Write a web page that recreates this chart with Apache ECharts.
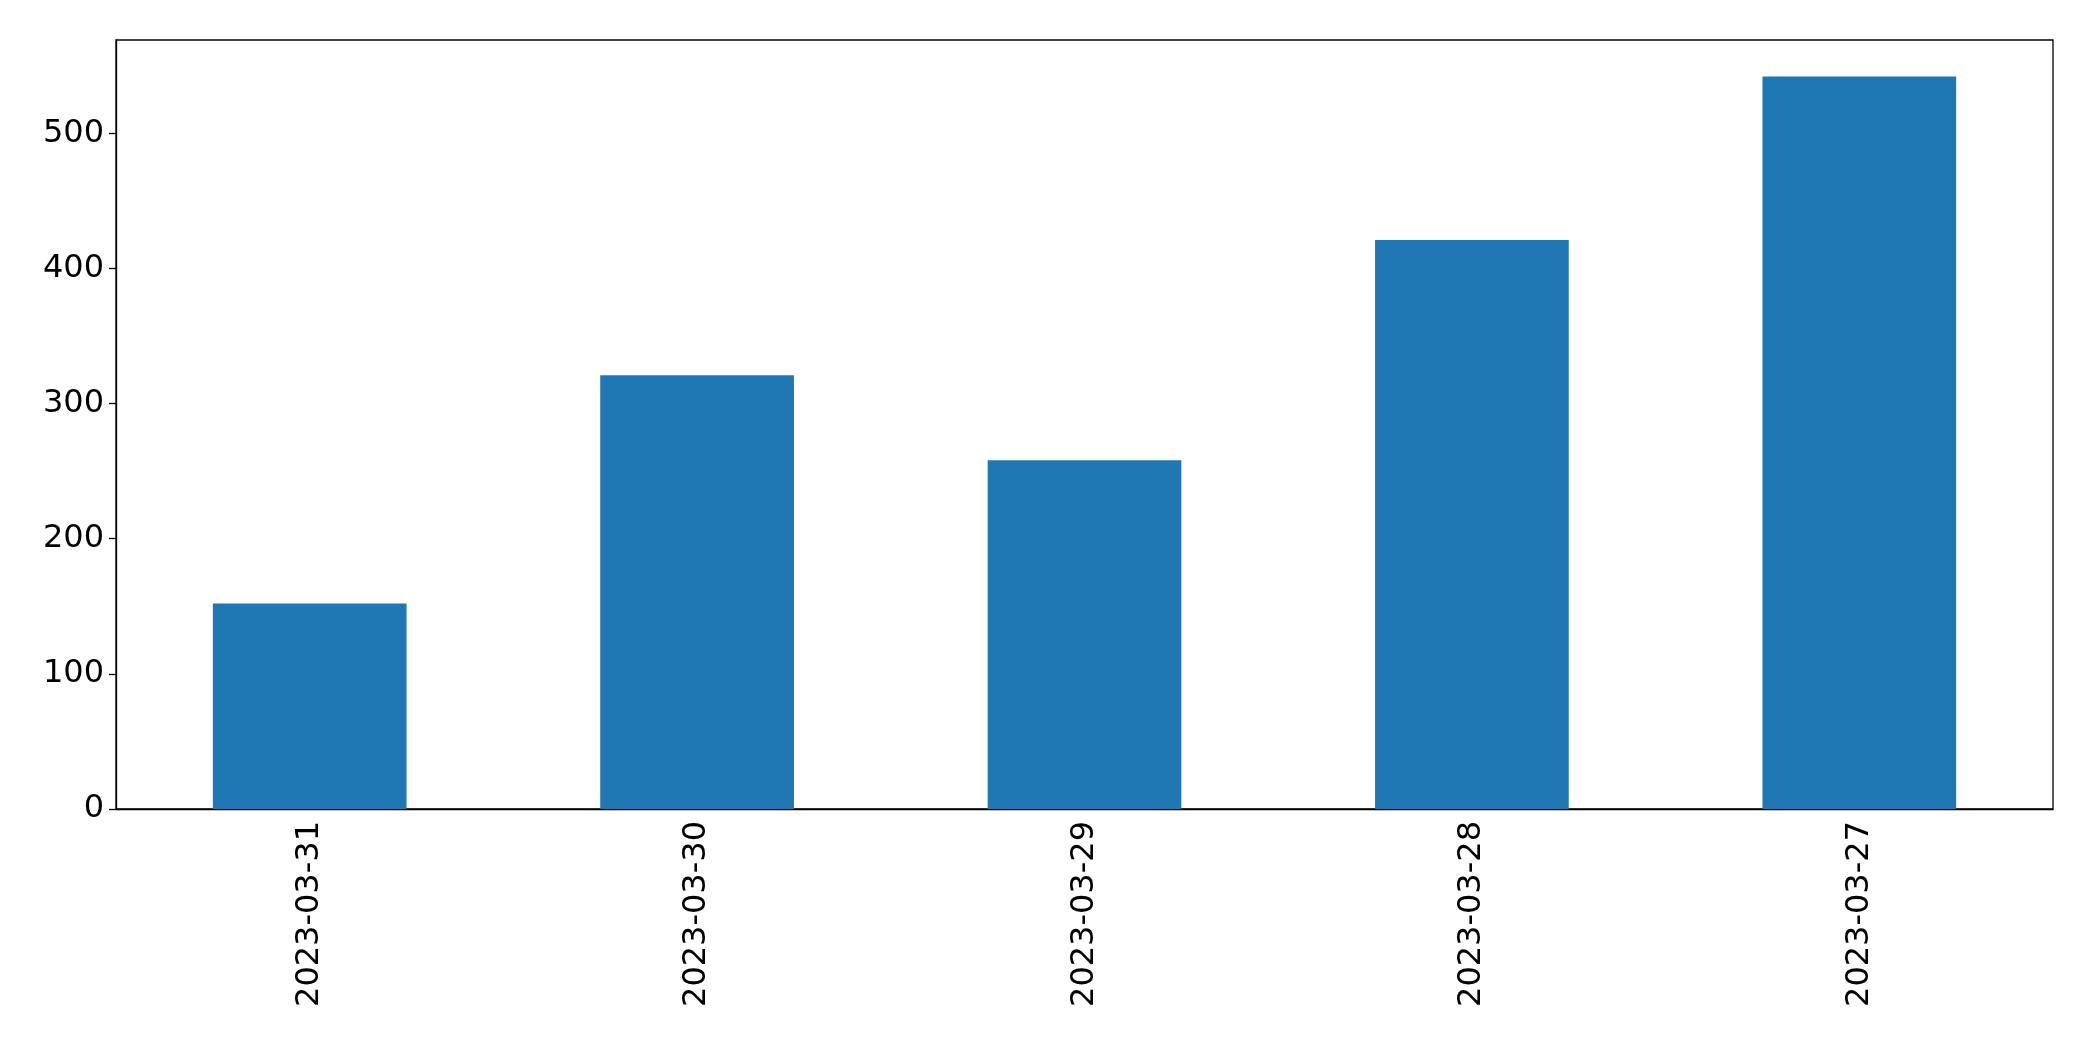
<!DOCTYPE html>
<html><head><meta charset="utf-8">
<script src="https://cdn.jsdelivr.net/npm/echarts@6/dist/echarts.min.js"></script>
<style>html,body{margin:0;padding:0;background:#fff}#c{width:2093px;height:1061px}</style>
</head><body><div id="c"></div>
<script>
const categories = ["2023-03-31","2023-03-30","2023-03-29","2023-03-28","2023-03-27"];
const values = [152, 321, 258, 421, 542];
const chart = echarts.init(document.getElementById('c'));
const font = {fontFamily:'DejaVu Sans', fontSize:32, color:'#000'};
chart.setOption({
  animation:false,
  grid:{left:116, right:40, top:40, bottom:252, show:true, borderColor:'#000', borderWidth:1.3},
  xAxis:{type:'category', data:categories,
    axisLine:{lineStyle:{color:'#000',width:1.3}},
    axisTick:{alignWithLabel:true, length:7, lineStyle:{color:'#000',width:1.3}},
    axisLabel:Object.assign({rotate:90, margin:12}, font)},
  yAxis:{type:'value', min:0, max:569, interval:100,
    axisLine:{show:true, lineStyle:{color:'#000',width:1.3}},
    axisTick:{show:true, length:7, lineStyle:{color:'#000',width:1.3}},
    splitLine:{show:false},
    axisLabel:Object.assign({margin:12, showMaxLabel:false}, font)},
  series:[{type:'bar', data:values, barWidth:'50%', itemStyle:{color:'#1f77b4'}}]
});
</script></body></html>
